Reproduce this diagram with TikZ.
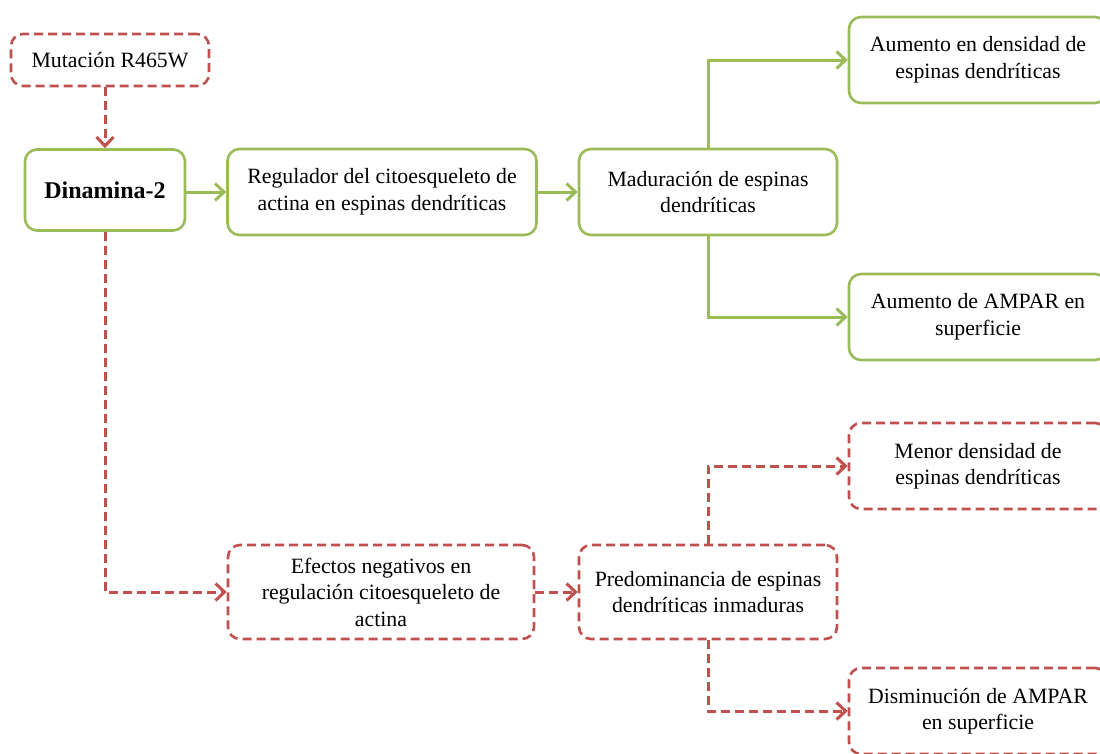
\documentclass[tikz,border=0pt]{standalone}
\usepackage{fontspec}
\setmainfont{Liberation Serif}
\usetikzlibrary{arrows.meta}
\definecolor{leafgreen}{HTML}{9BBB59}
\definecolor{brickred}{HTML}{C0504D}

\begin{document}
\begin{tikzpicture}[x=1pt, y=-1pt,
    every node/.style={font=\fontsize{21.8}{26.5}\selectfont, align=center, rounded corners=12pt, line width=2.6pt, fill=white},
    okbox/.style={draw=leafgreen},
    badbox/.style={draw=brickred, dash pattern=on 9pt off 5pt},
    okarrow/.style={draw=leafgreen, line width=3pt, -{Straight Barb[length=9pt,width=17pt,line width=3pt]}},
    badarrow/.style={okarrow, draw=brickred, dash pattern=on 9pt off 5pt}]
  \path[use as bounding box, clip] (0,0) rectangle (1100,753);
  \node[badbox, minimum width=198pt, minimum height=52pt] (mut) at (110,60) {Mutación R465W};
  \node[okbox, minimum width=160pt, minimum height=81pt, font=\fontsize{24}{28}\selectfont\bfseries] (din) at (105,190) {Dinamina-2};
  \node[okbox, minimum width=309pt, minimum height=86pt] (reg) at (382,192) {Regulador del citoesqueleto de\\actina en espinas dendríticas};
  \node[okbox, minimum width=258pt, minimum height=86pt] (mad) at (708,192) {Maduración de espinas\\dendríticas};
  \node[okbox, minimum width=258pt, minimum height=86pt] (dens) at (978,60) {Aumento en densidad de\\espinas dendríticas};
  \node[okbox, minimum width=258pt, minimum height=86pt] (ampar) at (978,317) {Aumento de AMPAR en\\superficie};
  \node[badbox, minimum width=306pt, minimum height=94pt] (efe) at (381,592) {Efectos negativos en\\regulación citoesqueleto de\\actina};
  \node[badbox, minimum width=258pt, minimum height=94pt] (pre) at (708,592) {Predominancia de espinas\\dendríticas inmaduras};
  \node[badbox, minimum width=258pt, minimum height=86pt] (men) at (978,466) {Menor densidad de\\espinas dendríticas};
  \node[badbox, minimum width=258pt, minimum height=86pt] (dis) at (978,711) {Disminución de AMPAR\\en superficie};

  \draw[badarrow] (din.north |- mut.south) -- (din.north);
  \draw[okarrow] (din.east |- reg) -- (reg.west);
  \draw[okarrow] (reg) -- (mad);
  \draw[okarrow] (mad.north) |- (dens.west);
  \draw[okarrow] (mad.south) |- (ampar.west);
  \draw[badarrow] (din.south) |- (efe.west);
  \draw[badarrow] (efe) -- (pre);
  \draw[badarrow] (pre.north) |- (men.west);
  \draw[badarrow] (pre.south) |- (dis.west);
\end{tikzpicture}
\end{document}
